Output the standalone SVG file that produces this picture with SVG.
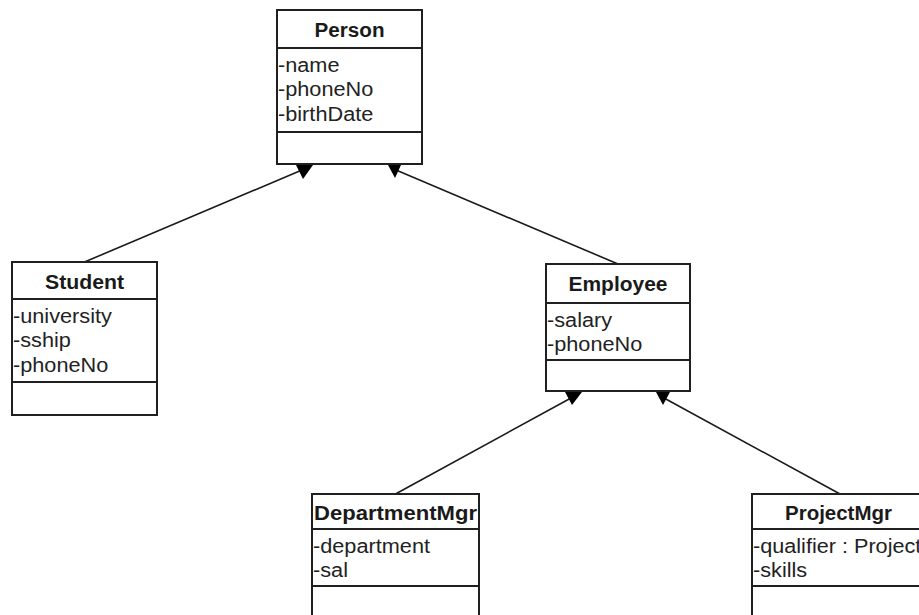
<svg xmlns="http://www.w3.org/2000/svg" width="919" height="615" viewBox="0 0 919 615">
  <style>
    .box { fill: #ffffff; stroke: #202020; stroke-width: 2; }
    .sep { stroke: #202020; stroke-width: 2; }
    .title { font-family: "Liberation Sans", Arial, sans-serif; font-size: 20px; font-weight: bold; fill: #1a1a1a; text-anchor: middle; }
    .attr { font-family: "Liberation Sans", Arial, sans-serif; font-size: 20px; fill: #222222; }
    .link { stroke: #1a1a1a; stroke-width: 1.6; fill: none; }
    .head { fill: #000000; stroke: none; }
  </style>
  <rect width="919" height="615" fill="#ffffff"/>

  <!-- generalization connectors -->
  <g id="connectors">
    <line class="link" x1="84.5" y1="262" x2="302" y2="170"/>
    <line class="link" x1="618" y1="264" x2="396" y2="170"/>
    <line class="link" x1="395.5" y1="494" x2="571" y2="398"/>
    <line class="link" x1="840" y1="494" x2="664" y2="398"/>
    <polygon class="head" points="296,165 313,165 303,179"/>
    <polygon class="head" points="388,165 401,165 395,178"/>
    <polygon class="head" points="565,392 582,392 572,405"/>
    <polygon class="head" points="656,392 670,392 663,405"/>
  </g>

  <g id="person">
    <rect class="box" x="277" y="10" width="145" height="154"/>
    <line class="sep" x1="277" y1="48" x2="422" y2="48"/>
    <line class="sep" x1="277" y1="132" x2="422" y2="132"/>
    <text class="title" x="349.5" y="37" textLength="70" lengthAdjust="spacingAndGlyphs">Person</text>
    <text class="attr" x="278" y="71.5" textLength="61.5" lengthAdjust="spacingAndGlyphs">-name</text>
    <text class="attr" x="278" y="96" textLength="95.3" lengthAdjust="spacingAndGlyphs">-phoneNo</text>
    <text class="attr" x="278" y="120.5" textLength="95.3" lengthAdjust="spacingAndGlyphs">-birthDate</text>
  </g>

  <g id="student">
    <rect class="box" x="12" y="262" width="145" height="153"/>
    <line class="sep" x1="12" y1="299" x2="157" y2="299"/>
    <line class="sep" x1="12" y1="382" x2="157" y2="382"/>
    <text class="title" x="84.5" y="289" textLength="79" lengthAdjust="spacingAndGlyphs">Student</text>
    <text class="attr" x="13" y="322.5" textLength="98.9" lengthAdjust="spacingAndGlyphs">-university</text>
    <text class="attr" x="13" y="347" textLength="57.9" lengthAdjust="spacingAndGlyphs">-sship</text>
    <text class="attr" x="13" y="371.5" textLength="95.3" lengthAdjust="spacingAndGlyphs">-phoneNo</text>
  </g>

  <g id="employee">
    <rect class="box" x="546" y="264" width="144" height="127"/>
    <line class="sep" x1="546" y1="303" x2="690" y2="303"/>
    <line class="sep" x1="546" y1="360" x2="690" y2="360"/>
    <text class="title" x="618" y="291" textLength="99" lengthAdjust="spacingAndGlyphs">Employee</text>
    <text class="attr" x="547" y="326.5" textLength="65.1" lengthAdjust="spacingAndGlyphs">-salary</text>
    <text class="attr" x="547" y="351" textLength="95.3" lengthAdjust="spacingAndGlyphs">-phoneNo</text>
  </g>

  <g id="departmentMgr">
    <rect class="box" x="312" y="494" width="167" height="146"/>
    <line class="sep" x1="312" y1="529" x2="479" y2="529"/>
    <line class="sep" x1="312" y1="586" x2="479" y2="586"/>
    <text class="title" x="395.5" y="520" textLength="163" lengthAdjust="spacingAndGlyphs">DepartmentMgr</text>
    <text class="attr" x="313" y="552.5" textLength="117" lengthAdjust="spacingAndGlyphs">-department</text>
    <text class="attr" x="313" y="577" textLength="35" lengthAdjust="spacingAndGlyphs">-sal</text>
  </g>

  <g id="projectMgr">
    <rect class="box" x="752" y="494" width="174" height="146"/>
    <line class="sep" x1="752" y1="529" x2="926" y2="529"/>
    <line class="sep" x1="752" y1="586" x2="926" y2="586"/>
    <text class="title" x="838.5" y="520" textLength="107" lengthAdjust="spacingAndGlyphs">ProjectMgr</text>
    <text class="attr" x="753" y="552.5" textLength="168.3" lengthAdjust="spacingAndGlyphs">-qualifier : Project</text>
    <text class="attr" x="753" y="577" textLength="54.2" lengthAdjust="spacingAndGlyphs">-skills</text>
  </g>
</svg>
